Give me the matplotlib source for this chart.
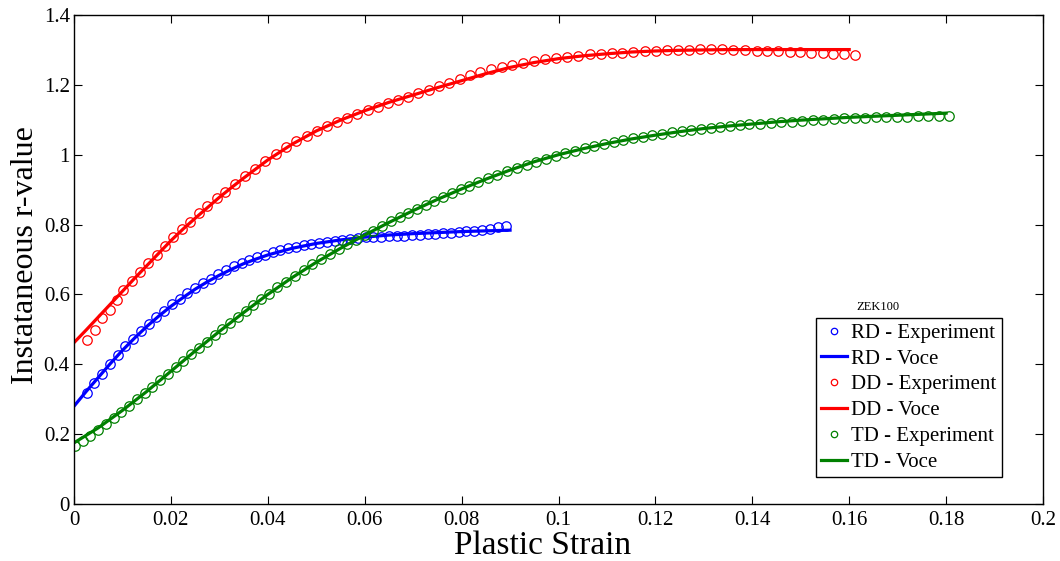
import numpy as np
import matplotlib
matplotlib.use("Agg")
import matplotlib.pyplot as plt
from matplotlib.ticker import FormatStrFormatter, MultipleLocator
from matplotlib.lines import Line2D

plt.rcParams['font.family'] = ['Liberation Serif', 'DejaVu Serif']

# ---------------- data ----------------
rd_exp_x = [0.0026, 0.0042, 0.0058, 0.0074, 0.0090, 0.0106, 0.0122, 0.0138, 0.0154, 0.0170,
            0.0186, 0.0202, 0.0218, 0.0234, 0.0250, 0.0266, 0.0282, 0.0298, 0.0314, 0.0330,
            0.0346, 0.0362, 0.0378, 0.0394, 0.0410, 0.0426, 0.0442, 0.0458, 0.0474, 0.0490,
            0.0506, 0.0522, 0.0538, 0.0554, 0.0570, 0.0586, 0.0602, 0.0618, 0.0634, 0.0650,
            0.0666, 0.0682, 0.0698, 0.0714, 0.0730, 0.0746, 0.0762, 0.0778, 0.0794, 0.0810,
            0.0826, 0.0842, 0.0858, 0.0875, 0.0892]
rd_exp_y = [0.318, 0.346, 0.373, 0.400, 0.426, 0.451, 0.473, 0.495, 0.515, 0.535,
            0.553, 0.572, 0.588, 0.603, 0.618, 0.632, 0.645, 0.658, 0.669, 0.680,
            0.690, 0.699, 0.707, 0.714, 0.721, 0.727, 0.732, 0.737, 0.741, 0.745,
            0.748, 0.751, 0.754, 0.757, 0.759, 0.761, 0.763, 0.764, 0.765, 0.766,
            0.767, 0.768, 0.769, 0.770, 0.772, 0.773, 0.775, 0.777, 0.779, 0.781,
            0.783, 0.785, 0.788, 0.792, 0.796]

rd_voce_x = [0.0, 0.0025, 0.005, 0.0075, 0.01, 0.0125, 0.015, 0.0175, 0.02, 0.0225,
             0.025, 0.0275, 0.03, 0.0325, 0.035, 0.0375, 0.04, 0.045, 0.05, 0.055,
             0.06, 0.065, 0.07, 0.075, 0.08, 0.085, 0.09]
rd_voce_y = [0.280, 0.322, 0.362, 0.402, 0.440, 0.475, 0.508, 0.538, 0.566, 0.591,
             0.615, 0.636, 0.655, 0.672, 0.688, 0.701, 0.713, 0.732, 0.746, 0.756,
             0.764, 0.770, 0.774, 0.777, 0.780, 0.782, 0.784]

dd_exp_x = [0.0026, 0.0043, 0.0057, 0.0074, 0.0088, 0.0102, 0.0119, 0.0136, 0.0153, 0.0171,
            0.0188, 0.0205, 0.0222, 0.0239, 0.0259, 0.0275, 0.0295, 0.0312, 0.0332,
            0.0353, 0.0374, 0.0395, 0.0416, 0.0437, 0.0458, 0.0480, 0.0501, 0.0522, 0.0543,
            0.0564, 0.0585, 0.0606, 0.0627, 0.0648, 0.0669, 0.0690, 0.0711, 0.0733, 0.0754,
            0.0775, 0.0796, 0.0817, 0.0838,
            0.0861, 0.0883, 0.0905, 0.0927, 0.0950, 0.0972, 0.0995, 0.1018, 0.1041, 0.1065,
            0.1087, 0.1110, 0.1132, 0.1154, 0.1178, 0.1202, 0.1224, 0.1247, 0.1270, 0.1292,
            0.1315, 0.1337, 0.1361, 0.1385, 0.1409, 0.1431, 0.1454, 0.1477, 0.1498, 0.1521,
            0.1545, 0.1567, 0.1590, 0.1613]
dd_exp_y = [0.470, 0.498, 0.532, 0.555, 0.584, 0.613, 0.639, 0.665, 0.689, 0.713,
            0.739, 0.763, 0.786, 0.808, 0.832, 0.853, 0.875, 0.894, 0.916,
            0.938, 0.960, 0.981, 1.002, 1.022, 1.038, 1.054, 1.068, 1.081, 1.093,
            1.105, 1.116, 1.127, 1.137, 1.147, 1.157, 1.166, 1.176, 1.186, 1.196,
            1.206, 1.216, 1.227, 1.238,
            1.245, 1.252, 1.258, 1.264, 1.269, 1.273, 1.277, 1.281, 1.284, 1.287,
            1.289, 1.290, 1.292, 1.294, 1.296, 1.298, 1.299, 1.300, 1.301, 1.302,
            1.302, 1.302, 1.301, 1.300, 1.298, 1.298, 1.296, 1.295, 1.293, 1.292,
            1.290, 1.288, 1.287, 1.286]

dd_voce_x = [0.0, 0.0025, 0.005, 0.0075, 0.01, 0.0125, 0.015, 0.0175, 0.02, 0.0225,
             0.025, 0.0275, 0.03, 0.0325, 0.035, 0.0375, 0.04, 0.045, 0.05, 0.055,
             0.06, 0.065, 0.07, 0.075, 0.08, 0.085, 0.09, 0.095, 0.10, 0.105,
             0.11, 0.115, 0.12, 0.125, 0.13, 0.135, 0.14, 0.145, 0.15, 0.155, 0.16]
dd_voce_y = [0.462, 0.498, 0.535, 0.572, 0.609, 0.646, 0.682, 0.718, 0.754, 0.787,
             0.818, 0.848, 0.878, 0.906, 0.933, 0.959, 0.985, 1.030, 1.068, 1.099,
             1.126, 1.150, 1.171, 1.192, 1.212, 1.232, 1.250, 1.264, 1.275, 1.283,
             1.289, 1.294, 1.297, 1.299, 1.300, 1.301, 1.301, 1.301, 1.301, 1.301, 1.301]

td_exp_x = [0.0002, 0.0018, 0.0034, 0.0050, 0.0066, 0.0082, 0.0098, 0.0114, 0.0130, 0.0146,
            0.0162, 0.0178, 0.0194, 0.0210, 0.0226, 0.0242, 0.0258, 0.0274, 0.0290, 0.0306,
            0.0322, 0.0338, 0.0354, 0.0370, 0.0386, 0.0402,
            0.0420, 0.0438, 0.0456, 0.0474, 0.0492, 0.0510, 0.0528, 0.0546, 0.0564, 0.0582,
            0.0600, 0.0618, 0.0636, 0.0654, 0.0672, 0.0690, 0.0708, 0.0726, 0.0744, 0.0762,
            0.0780, 0.0798, 0.0816, 0.0834,
            0.0854, 0.0874, 0.0894, 0.0914, 0.0934, 0.0954, 0.0974, 0.0994, 0.1014, 0.1034,
            0.1054, 0.1074, 0.1094, 0.1114, 0.1134, 0.1154, 0.1174, 0.1194, 0.1214, 0.1234,
            0.1254, 0.1274, 0.1294, 0.1314, 0.1334, 0.1354, 0.1374, 0.1394,
            0.1416, 0.1438, 0.1460, 0.1481, 0.1503, 0.1525, 0.1546, 0.1568, 0.1590, 0.1611,
            0.1633, 0.1655, 0.1676, 0.1698, 0.1720, 0.1741, 0.1763, 0.1785, 0.1806]
td_exp_y = [0.165, 0.180, 0.196, 0.212, 0.229, 0.246, 0.264, 0.282, 0.300, 0.318,
            0.336, 0.355, 0.373, 0.392, 0.410, 0.429, 0.447, 0.465, 0.483, 0.501,
            0.518, 0.535, 0.552, 0.569, 0.586, 0.602,
            0.620, 0.637, 0.654, 0.670, 0.686, 0.701, 0.715, 0.729, 0.743, 0.757,
            0.770, 0.783, 0.796, 0.809, 0.821, 0.833, 0.845, 0.857, 0.868, 0.879,
            0.890, 0.901, 0.911, 0.921,
            0.932, 0.942, 0.952, 0.962, 0.971, 0.980, 0.988, 0.997, 1.004, 1.011,
            1.018, 1.025, 1.031, 1.037, 1.042, 1.047, 1.052, 1.056, 1.060, 1.064,
            1.068, 1.071, 1.074, 1.077, 1.080, 1.082, 1.085, 1.087,
            1.089, 1.091, 1.093, 1.095, 1.097, 1.099, 1.100, 1.102, 1.104, 1.105,
            1.106, 1.107, 1.108, 1.109, 1.109, 1.110, 1.110, 1.111, 1.111]

td_voce_x = [0.0, 0.005, 0.01, 0.015, 0.02, 0.025, 0.03, 0.035, 0.04, 0.045,
             0.05, 0.055, 0.06, 0.065, 0.07, 0.075, 0.08, 0.085, 0.09, 0.095,
             0.10, 0.105, 0.11, 0.115, 0.12, 0.125, 0.13, 0.135, 0.14, 0.145,
             0.15, 0.155, 0.16, 0.165, 0.17, 0.175, 0.18]
td_voce_y = [0.175, 0.218, 0.268, 0.322, 0.380, 0.438, 0.494, 0.548, 0.600, 0.648,
             0.692, 0.732, 0.770, 0.806, 0.840, 0.872, 0.902, 0.930, 0.956, 0.980,
             1.000, 1.017, 1.032, 1.045, 1.056, 1.066, 1.075, 1.082, 1.088, 1.094,
             1.099, 1.103, 1.107, 1.110, 1.113, 1.116, 1.119]

labels = ['RD - Experiment', 'RD - Voce', 'DD - Experiment', 'DD - Voce',
          'TD - Experiment', 'TD - Voce']
legend_title = 'ZEK100'
x_label = 'Plastic Strain'
y_label = 'Instataneous r-value'

# ---------------- figure ----------------
fig = plt.figure(figsize=(10.6, 5.61), dpi=100)
ax = fig.add_axes([74/1060, 1 - 504/561, (1043-74)/1060, (504-15)/561])

mk = dict(marker='o', markersize=6.8, markerfacecolor='none', markeredgewidth=0.9, linestyle='none')
lw = 2.3
blue, red, green = '#0000ff', '#ff0000', '#008000'

ax.plot(rd_exp_x, rd_exp_y, color=blue, markeredgecolor=blue, **mk)
ax.plot(rd_voce_x, rd_voce_y, color=blue, lw=lw)
ax.plot(dd_exp_x, dd_exp_y, color=red, markeredgecolor=red, **mk)
ax.plot(dd_voce_x, dd_voce_y, color=red, lw=lw)
ax.plot(td_exp_x, td_exp_y, color=green, markeredgecolor=green, **mk)
ax.plot(td_voce_x, td_voce_y, color=green, lw=lw)

ax.set_xlim(0, 0.2)
ax.set_ylim(0, 1.4)
ax.xaxis.set_major_locator(MultipleLocator(0.02))
ax.yaxis.set_major_locator(MultipleLocator(0.2))
ax.xaxis.set_major_formatter(FormatStrFormatter('%g'))
ax.yaxis.set_major_formatter(FormatStrFormatter('%g'))
ax.tick_params(direction='in', length=6, width=0.8, top=True, right=True,
               labelsize=15, colors='black')
ax.tick_params(axis='x', pad=5)
ax.tick_params(axis='y', pad=3)
for s in ax.spines.values():
    s.set_linewidth(1.0)
    s.set_color('black')

ax.set_xlabel(x_label, fontsize=24)
ax.xaxis.set_label_coords((543 - 74) / 969, -(530 - 504) / 489)
ax.xaxis.label.set_va('top')
ax.set_ylabel(y_label, fontsize=23)
ax.yaxis.set_label_coords(-(74 - 26) / 969, (504 - 255) / 489)
ax.yaxis.label.set_va('center')

# legend handles (smaller markers, as in the reference legend)
lh = [Line2D([], [], marker='o', markersize=4.6, markerfacecolor='none', markeredgecolor=blue, ls='none', mew=0.9),
      Line2D([], [], color=blue, lw=lw),
      Line2D([], [], marker='o', markersize=4.6, markerfacecolor='none', markeredgecolor=red, ls='none', mew=0.9),
      Line2D([], [], color=red, lw=lw),
      Line2D([], [], marker='o', markersize=4.6, markerfacecolor='none', markeredgecolor=green, ls='none', mew=0.9),
      Line2D([], [], color=green, lw=lw)]
leg = ax.legend(lh, labels, loc='upper left', bbox_to_anchor=(816/1060, 1 - 318/561),
                bbox_transform=fig.transFigure, fontsize=15, frameon=True, fancybox=False,
                borderaxespad=0, borderpad=0.25, labelspacing=0.3, handlelength=1.25,
                handletextpad=0.2, framealpha=1, edgecolor='black')
leg.get_frame().set_linewidth(1.0)
fig.text(878/1060, 1 - 307/561, legend_title, fontsize=9, ha='center', va='center')

fig.savefig('out.png', dpi=100)
